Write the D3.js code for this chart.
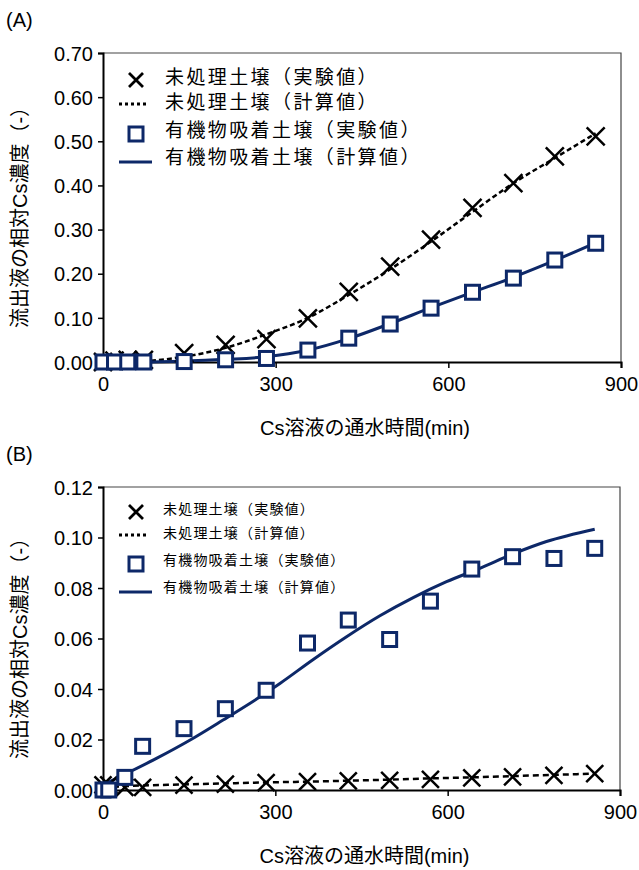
<!DOCTYPE html>
<html>
<head>
<meta charset="utf-8">
<script src="https://cdn.jsdelivr.net/npm/d3@7"></script>
<style>
  body { margin: 0; background: #fff; }
  svg text { font-family: "Liberation Sans", Arial, "Noto Sans CJK JP", sans-serif; fill: #000; }
  .jp { font-family: "Noto Sans CJK JP", "Liberation Sans", sans-serif; }
</style>
</head>
<body>
<div id="chart"></div>
<script>
// sampling times (min)
var timesA = [0, 20, 43, 71, 141, 213, 284, 356, 427, 499, 570, 642, 713, 785, 856];
var timesB = [0, 10, 38, 69, 141, 213, 284, 356, 427, 499, 570, 642, 713, 785, 856];

// (A) measured and calculated
var untreatedExpA = [0.0, 0.003, 0.005, 0.005, 0.02, 0.039, 0.052, 0.099, 0.159, 0.216, 0.277, 0.349, 0.405, 0.466, 0.511];
var untreatedCalcA = [0.0, 0.0, 0.001, 0.002, 0.012, 0.032, 0.063, 0.1, 0.152, 0.21, 0.273, 0.34, 0.405, 0.462, 0.518];
var organicExpA = [0.0, 0.0, 0.0, 0.0, 0.001, 0.005, 0.008, 0.027, 0.054, 0.086, 0.122, 0.158, 0.19, 0.231, 0.269];
var organicCalcA = [0.0, 0.0, 0.0, 0.0, 0.002, 0.006, 0.012, 0.027, 0.053, 0.087, 0.123, 0.158, 0.192, 0.23, 0.27];

// (B) measured and calculated
var untreatedExpB = [0.002, 0.002, 0.001, 0.001, 0.0019, 0.0023, 0.0029, 0.0033, 0.0036, 0.0038, 0.0042, 0.0048, 0.0052, 0.0058, 0.0065];
var untreatedCalcB = [0.001, 0.0012, 0.0015, 0.0018, 0.0022, 0.0026, 0.003, 0.0033, 0.0037, 0.0041, 0.0046, 0.005, 0.0055, 0.006, 0.0065];
var organicExpB = [0.0, 0.0, 0.005, 0.0173, 0.0243, 0.0322, 0.0395, 0.0582, 0.0673, 0.0596, 0.0748, 0.0875, 0.0924, 0.0917, 0.0957];
var organicCalcTimesB = [0, 35, 93, 151, 209, 268, 308, 366, 424, 482, 540, 598, 656, 714, 772, 856];
var organicCalcB = [0.002, 0.0059, 0.0125, 0.0197, 0.0277, 0.0361, 0.0422, 0.0517, 0.0607, 0.0690, 0.0762, 0.0825, 0.0878, 0.0935, 0.0984, 0.1033];

var xTicks = [0, 300, 600, 900];
var yTicksA = [0, 0.1, 0.2, 0.3, 0.4, 0.5, 0.6, 0.7];
var yTicksB = [0, 0.02, 0.04, 0.06, 0.08, 0.1, 0.12];

var legendLabels = ["未処理土壌（実験値）", "未処理土壌（計算値）", "有機物吸着土壌（実験値）", "有機物吸着土壌（計算値）"];
var xTitle = "Cs溶液の通水時間(min)";
var yTitle = "流出液の相対Cs濃度（-）";

var navy = "#0d2868";

var svg = d3.select("#chart").append("svg")
  .attr("width", 639)
  .attr("height", 870);

function crossPath(s) {
  return "M" + (-s) + "," + (-s) + "L" + s + "," + s + "M" + (-s) + "," + s + "L" + s + "," + (-s);
}

function drawPanel(p) {
  var x = d3.scaleLinear().domain([0, 900]).range([p.left, p.right]);
  var y = d3.scaleLinear().domain([0, p.yMax]).range([p.bottom, p.top]);
  var g = svg.append("g");

  // frame (top / right thin)
  g.append("path")
    .attr("d", "M" + p.left + "," + p.top + "H" + p.right + "V" + p.bottom)
    .attr("fill", "none").attr("stroke", "#444").attr("stroke-width", 1.2);

  var yAxis = g.append("g")
    .attr("transform", "translate(" + p.left + ",0)")
    .call(d3.axisLeft(y).tickValues(p.yTicks).tickSize(5).tickPadding(5)
      .tickFormat(d3.format(p.yFormat)));
  var xAxis = g.append("g")
    .attr("transform", "translate(0," + p.bottom + ")")
    .call(d3.axisBottom(x).tickValues(xTicks).tickSize(6).tickPadding(9)
      .tickFormat(d3.format("d")));
  [yAxis, xAxis].forEach(function (a) {
    a.select(".domain").attr("stroke", "#000").attr("stroke-width", 2);
    a.selectAll(".tick line").attr("stroke", "#000").attr("stroke-width", 1.5);
    a.selectAll(".tick text").attr("font-size", 20)
      .style("font-family", "'Liberation Sans', Arial, sans-serif");
  });
  yAxis.selectAll(".tick text").attr("dy", "0.36em");

  // calculated lines
  var line = d3.line().curve(d3.curveMonotoneX)
    .x(function (d) { return x(d[0]); })
    .y(function (d) { return y(d[1]); });

  g.append("path")
    .datum(d3.zip(p.untreatedCalcTimes, p.untreatedCalc))
    .attr("d", line)
    .attr("fill", "none").attr("stroke", "#000")
    .attr("stroke-width", 2.5).attr("stroke-dasharray", p.dash);

  g.append("path")
    .datum(d3.zip(p.organicCalcTimes, p.organicCalc))
    .attr("d", line)
    .attr("fill", "none").attr("stroke", navy).attr("stroke-width", 3);

  // measured: crosses then squares
  g.append("g").selectAll("path")
    .data(d3.zip(p.times, p.untreatedExp))
    .enter().append("path")
    .attr("transform", function (d) { return "translate(" + x(d[0]) + "," + y(d[1]) + ")"; })
    .attr("d", crossPath(p.crossSize))
    .attr("stroke", "#000").attr("stroke-width", 2.5).attr("fill", "none");

  g.append("g").selectAll("rect")
    .data(d3.zip(p.times, p.organicExp))
    .enter().append("rect")
    .attr("x", function (d) { return x(d[0]) - 7; })
    .attr("y", function (d) { return y(d[1]) - 7; })
    .attr("width", 14).attr("height", 14)
    .attr("fill", "#fff").attr("stroke", navy).attr("stroke-width", 3);

  // legend
  var lg = g.append("g");
  var mx = 136;
  p.legendY.forEach(function (ly, i) {
    if (i === 0) {
      lg.append("path").attr("transform", "translate(" + mx + "," + (ly + 3) + ")")
        .attr("d", crossPath(p.legCross)).attr("stroke", "#000").attr("stroke-width", 2.8);
    } else if (i === 1) {
      lg.append("line").attr("x1", 119).attr("x2", 149).attr("y1", ly + 2).attr("y2", ly + 2)
        .attr("stroke", "#000").attr("stroke-width", 3).attr("stroke-dasharray", "3,3");
    } else if (i === 2) {
      lg.append("rect").attr("x", mx - 7).attr("y", ly - 3)
        .attr("width", 14).attr("height", 14)
        .attr("fill", "#fff").attr("stroke", navy).attr("stroke-width", 3);
    } else {
      lg.append("line").attr("x1", 119).attr("x2", 152).attr("y1", ly + 5).attr("y2", ly + 5)
        .attr("stroke", navy).attr("stroke-width", 3);
    }
    lg.append("text")
      .attr("class", "jp")
      .attr("x", p.legendTextX).attr("y", ly)
      .attr("dy", "0.36em")
      .attr("font-size", p.legFont)
      .attr("letter-spacing", p.legSpacing)
      .text(legendLabels[i]);
  });

  // titles
  g.append("text")
    .attr("x", (p.left + p.right) / 2 + 3).attr("y", p.bottom + 73)
    .attr("text-anchor", "middle").attr("font-size", 20)
    .text(xTitle);

  g.append("text")
    .attr("transform", "translate(" + 27 + "," + ((p.top + p.bottom) / 2 + 5) + ") rotate(-90)")
    .attr("text-anchor", "middle").attr("font-size", 20)
    .text(yTitle);

  g.append("text")
    .attr("x", 6).attr("y", p.top - 26)
    .attr("font-size", 20)
    .text(p.tag);
}

drawPanel({
  tag: "(A)",
  left: 103, right: 621, top: 53, bottom: 362,
  yMax: 0.7, yTicks: yTicksA, yFormat: ".2f",
  times: timesA,
  untreatedExp: untreatedExpA, organicExp: organicExpA,
  untreatedCalcTimes: timesA, untreatedCalc: untreatedCalcA,
  organicCalcTimes: timesA, organicCalc: organicCalcA,
  dash: "5,3", crossSize: 9,
  legendY: [77, 102, 130, 157],
  legendTextX: 165, legFont: 19, legSpacing: 2.4, legCross: 7
});

drawPanel({
  tag: "(B)",
  left: 103, right: 620, top: 487, bottom: 790,
  yMax: 0.12, yTicks: yTicksB, yFormat: ".2f",
  times: timesB,
  untreatedExp: untreatedExpB, organicExp: organicExpB,
  untreatedCalcTimes: timesB, untreatedCalc: untreatedCalcB,
  organicCalcTimes: organicCalcTimesB, organicCalc: organicCalcB,
  dash: "6,4", crossSize: 8.5,
  legendY: [509, 533, 560, 587],
  legendTextX: 163, legFont: 14, legSpacing: 1.2, legCross: 7
});
</script>
</body>
</html>
